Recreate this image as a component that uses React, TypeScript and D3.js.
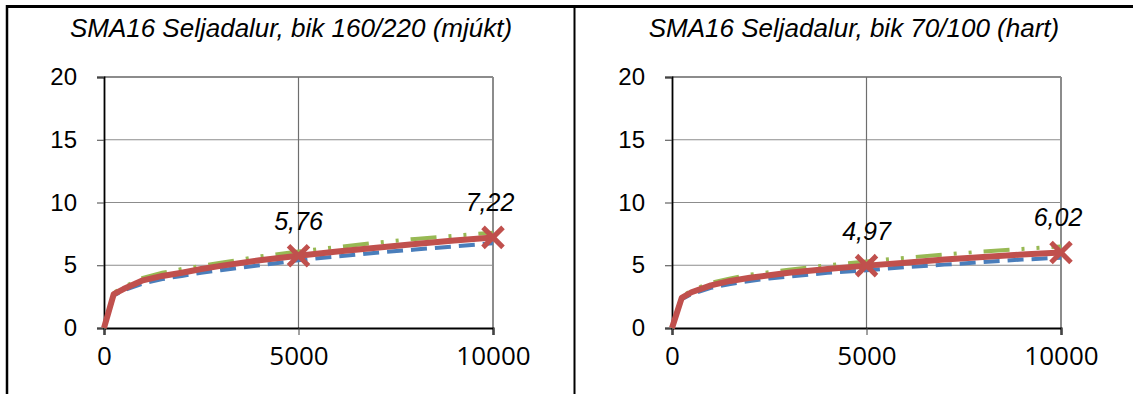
import React, { useEffect, useRef } from "react";
import * as d3 from "d3";

// load repetitions
const xs = [0, 250, 500, 1000, 1500, 2000, 2500, 3000, 4000, 5000, 6000, 7000, 8000, 9000, 10000];

// left chart: bik 160/220 (mjúkt)
const softRed = [0, 2.7, 3.1, 3.8, 4.15, 4.4, 4.7, 4.95, 5.4, 5.76, 6.1, 6.4, 6.7, 6.97, 7.22];
const softGreen = [0, 2.8, 3.25, 4.0, 4.4, 4.7, 4.95, 5.2, 5.7, 6.1, 6.45, 6.8, 7.1, 7.35, 7.6];
const softBlue = [0, 2.6, 3.0, 3.55, 3.9, 4.15, 4.4, 4.6, 5.0, 5.4, 5.7, 6.0, 6.25, 6.5, 6.75];

// right chart: bik 70/100 (hart)
const hardRed = [0, 2.4, 2.85, 3.4, 3.75, 4.0, 4.2, 4.4, 4.7, 4.97, 5.2, 5.45, 5.65, 5.85, 6.02];
const hardGreen = [0, 2.5, 3.0, 3.6, 3.95, 4.25, 4.45, 4.65, 5.0, 5.3, 5.6, 5.85, 6.1, 6.3, 6.5];
const hardBlue = [0, 2.3, 2.7, 3.2, 3.5, 3.75, 3.95, 4.1, 4.4, 4.6, 4.85, 5.05, 5.25, 5.45, 5.6];

const yTicks = [0, 5, 10, 15, 20];
const xTicks = [0, 5000, 10000];
const markX = [5000, 10000];

const charts = [
  { title: "SMA16 Seljadalur, bik 160/220 (mjúkt)", red: softRed, green: softGreen, blue: softBlue, left: 104, titleX: 291 },
  { title: "SMA16 Seljadalur, bik 70/100 (hart)", red: hardRed, green: hardGreen, blue: hardBlue, left: 672, titleX: 854 },
];

const W = 1133, H = 394;
const plotW = 389, top = 77, bottom = 328;

export default function App() {
  const ref = useRef<SVGSVGElement>(null);

  useEffect(() => {
    const svg = d3.select(ref.current);
    svg.selectAll("*").remove();

    // outer frame (table cells)
    svg.append("rect").attr("width", W).attr("height", H).attr("fill", "#fff");
    svg.append("line").attr("x1", 6).attr("x2", W).attr("y1", 6.5).attr("y2", 6.5).attr("stroke", "#000").attr("stroke-width", 3);
    svg.append("line").attr("x1", 7).attr("x2", 7).attr("y1", 5).attr("y2", H).attr("stroke", "#000").attr("stroke-width", 2.5);
    svg.append("line").attr("x1", 574.5).attr("x2", 574.5).attr("y1", 5).attr("y2", H).attr("stroke", "#000").attr("stroke-width", 2);

    const font = "'Liberation Sans', Arial, sans-serif";

    charts.forEach(c => {
      const g = svg.append("g");
      const x = d3.scaleLinear().domain([0, 10000]).range([c.left, c.left + plotW]);
      const y = d3.scaleLinear().domain([0, 20]).range([bottom, top]);

      g.append("text").attr("x", c.titleX).attr("y", 37).attr("text-anchor", "middle")
        .attr("font-family", font).attr("font-style", "italic").attr("font-size", 26).text(c.title);

      // gridlines
      g.selectAll(".hg").data(yTicks.filter(t => t > 0)).enter().append("line")
        .attr("x1", x(0)).attr("x2", x(10000)).attr("y1", d => y(d)).attr("y2", d => y(d))
        .attr("stroke", "#8c8c8c").attr("stroke-width", d => d === 20 ? 2 : 1.2);
      g.selectAll(".vg").data(xTicks.filter(t => t > 0)).enter().append("line")
        .attr("x1", d => x(d)).attr("x2", d => x(d)).attr("y1", y(20)).attr("y2", y(0))
        .attr("stroke", d => d === 10000 ? "#8c8c8c" : "#6e6e6e").attr("stroke-width", d => d === 10000 ? 2 : 1.2);

      // axes
      const yAxis = g.append("g").attr("transform", `translate(${x(0)},0)`)
        .call(d3.axisLeft(y).tickValues(yTicks).tickSize(7).tickPadding(20).tickFormat(d => String(d)));
      yAxis.select(".domain").attr("stroke", "#000").attr("stroke-width", 1.8);
      yAxis.selectAll(".tick line").attr("stroke", "#444").attr("stroke-width", 1);
      yAxis.selectAll("text").attr("font-family", font).attr("font-size", 24).attr("fill", "#000");

      const xAxis = g.append("g").attr("transform", `translate(0,${y(0)})`)
        .call(d3.axisBottom(x).tickValues(xTicks).tickSize(7).tickPadding(12).tickFormat(d => String(d)));
      xAxis.select(".domain").attr("stroke", "#000").attr("stroke-width", 2.2);
      xAxis.selectAll(".tick line").attr("stroke", "#444").attr("stroke-width", 1);
      xAxis.selectAll("text").attr("font-family", "'Open Sans', sans-serif").attr("font-size", 26).attr("fill", "#000");

      const line = d3.line<number>().x((_, i) => x(xs[i])).y(d => y(d));

      g.append("path").datum(c.blue).attr("fill", "none").attr("stroke", "#4a7ebb")
        .attr("stroke-width", 4).attr("stroke-dasharray", "16 8").attr("d", line);
      g.append("path").datum(c.green).attr("fill", "none").attr("stroke", "#98b954")
        .attr("stroke-width", 4).attr("stroke-dasharray", "26 12 3 12 3 12").attr("d", line);
      g.append("path").datum(c.red).attr("fill", "none").attr("stroke", "#c0504d")
        .attr("stroke-width", 6).attr("stroke-linejoin", "round").attr("d", line);

      // X markers + labels
      markX.forEach(mx => {
        const i = xs.indexOf(mx);
        const px = x(mx), py = y(c.red[i]);
        const s = 10;
        g.append("path").attr("d", `M${px - s},${py - s}L${px + s},${py + s}M${px - s},${py + s}L${px + s},${py - s}`)
          .attr("stroke", "#c0504d").attr("stroke-width", 5).attr("fill", "none");
        g.append("text").attr("x", px - (mx === 10000 ? 3 : 0)).attr("y", py - 26).attr("text-anchor", "middle")
          .attr("font-family", font).attr("font-style", "italic").attr("font-size", 25)
          .text(c.red[i].toFixed(2).replace(".", ","));
      });
    });
  }, []);

  return (
    <svg ref={ref} width={W} height={H} style={{ position: "absolute", left: 0, top: 0, display: "block" }} />
  );
}
